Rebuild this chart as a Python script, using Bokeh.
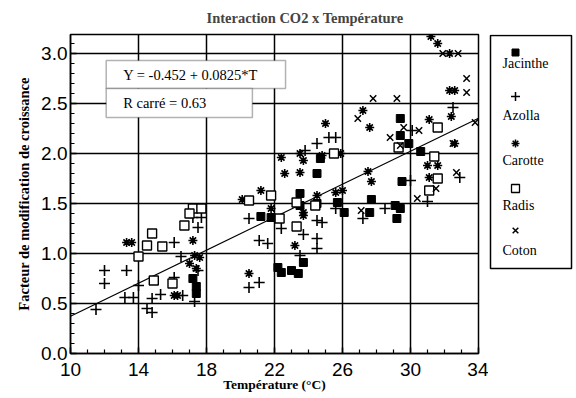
from bokeh.plotting import figure
from bokeh.models import Range1d, BoxAnnotation, Label, FixedTicker, NumeralTickFormatter
from bokeh.core.properties import value
from bokeh.layouts import row
from bokeh.embed import file_html
from bokeh.resources import INLINE

# ---------------- data ----------------
jacinthe_t = [17.2, 17.4, 17.4, 21.2, 21.8, 22.2, 22.4, 23.0, 23.4, 23.7, 23.5, 23.5, 24.5, 24.7, 24.5,
              26.1, 25.7, 27.7, 27.6, 29.1, 29.4, 29.2, 29.5, 29.4, 29.4, 29.9, 30.6]
jacinthe_y = [0.75, 0.67, 0.60, 1.37, 1.36, 0.86, 0.81, 0.83, 0.80, 0.91, 1.60, 1.48, 1.80, 1.95, 1.50,
              1.41, 1.51, 1.54, 1.41, 1.48, 1.45, 1.35, 1.72, 2.35, 2.18, 2.10, 2.02]

azolla_t = [11.5, 12.0, 12.0, 13.3, 13.2, 13.7, 14.0, 14.8, 15.3, 14.5, 14.8, 16.1, 16.6, 17.3, 17.5,
            16.1, 16.5, 17.2, 17.5, 17.7, 20.5, 21.1, 21.6, 21.1, 20.5, 22.4, 23.7, 24.5, 24.5, 23.5,
            24.5, 24.8, 24.5, 23.8, 25.2, 25.6, 25.6, 27.2, 28.5, 31.0, 30.0, 32.9, 30.1, 32.5]
azolla_y = [0.44, 0.83, 0.70, 0.83, 0.56, 0.56, 0.68, 0.55, 0.59, 0.45, 0.41, 0.76, 0.58, 0.52, 0.83,
            1.11, 0.97, 1.36, 1.26, 1.36, 1.35, 1.13, 1.10, 0.71, 0.66, 1.25, 1.19, 1.33, 1.15, 0.98,
            1.05, 1.31, 2.10, 2.03, 2.16, 2.16, 1.45, 1.35, 1.45, 1.52, 1.73, 1.76, 2.23, 2.46]

carotte_t = [13.3, 13.6, 17.2, 17.3, 17.6, 17.0, 17.4, 16.1, 16.3, 20.5, 20.1, 21.2, 22.4, 22.6, 23.5,
             21.8, 23.7, 23.2, 24.5, 23.5, 23.7, 25.0, 24.8, 25.9, 25.6, 26.0, 27.5, 27.7, 27.2, 27.6,
             31.2, 31.6, 32.3, 32.3, 32.6, 31.1, 32.4, 31.0, 31.6, 31.1, 32.6, 23.7]
carotte_y = [1.11, 1.11, 1.13, 0.98, 0.96, 0.90, 0.85, 0.58, 0.58, 0.80, 1.54, 1.63, 1.96, 1.80, 1.81,
             1.45, 1.38, 1.08, 1.58, 2.00, 1.93, 2.30, 1.98, 2.00, 1.61, 1.63, 1.82, 1.72, 2.43, 2.26,
             3.17, 3.10, 3.00, 2.63, 2.63, 2.34, 2.37, 1.88, 1.88, 1.76, 2.10, 1.41]

radis_t = [17.2, 17.7, 17.0, 16.7, 14.8, 14.5, 15.4, 14.0, 14.9, 16.0, 20.5, 21.8, 22.3, 23.3, 23.3,
           24.4, 25.5, 29.3, 31.4, 31.6, 31.1, 31.6]
radis_y = [1.45, 1.45, 1.40, 1.28, 1.20, 1.08, 1.07, 0.97, 0.73, 0.70, 1.53, 1.58, 1.35, 1.27, 1.51,
           1.48, 2.00, 2.06, 1.97, 1.75, 1.63, 2.26]

coton_t = [27.8, 29.2, 26.9, 33.3, 33.3, 31.9, 32.8, 32.5, 32.7, 29.6, 30.5, 28.8, 33.8, 31.5, 30.4,
           27.1, 29.4]
coton_y = [2.55, 2.55, 2.35, 2.75, 2.61, 3.00, 3.00, 2.10, 1.81, 2.26, 2.23, 2.16, 2.31, 1.65, 1.55,
           1.43, 2.08]

intercept = -0.452
slope = 0.0825
r2 = 0.63
x_ticks = [10, 14, 18, 22, 26, 30, 34]
x_minor = [11, 12, 13, 15, 16, 17, 19, 20, 21, 23, 24, 25, 27, 28, 29, 31, 32, 33]
y_ticks = [0.0, 0.5, 1.0, 1.5, 2.0, 2.5, 3.0]
y_minor = [0.1, 0.2, 0.3, 0.4, 0.6, 0.7, 0.8, 0.9, 1.1, 1.2, 1.3, 1.4, 1.6, 1.7, 1.8, 1.9,
           2.1, 2.2, 2.3, 2.4, 2.6, 2.7, 2.8, 2.9, 3.1]
species = ["Jacinthe", "Azolla", "Carotte", "Radis", "Coton"]

SERIF = "Liberation Serif"
SANS = "Liberation Sans"

# ---------------- main figure ----------------
p = figure(width=488, height=396, output_backend="svg", toolbar_location=None,
           x_range=Range1d(x_ticks[0], x_ticks[-1]), y_range=Range1d(0, 3.19),
           min_border_left=70, min_border_right=10, min_border_top=34, min_border_bottom=43)
p.title.text = "Interaction CO2 x Température"
p.title.text_font = SERIF
p.title.text_font_style = "bold"
p.title.text_font_size = "14.5px"
p.title.align = "left"
p.title.offset = 136
p.title.standoff = 14
p.title.vertical_align = "top"

p.outline_line_color = "black"
p.outline_line_width = 1.5
p.background_fill_color = "white"
p.border_fill_color = "white"

p.xaxis[0].ticker = FixedTicker(ticks=x_ticks, minor_ticks=x_minor)
p.yaxis[0].ticker = FixedTicker(ticks=y_ticks, minor_ticks=y_minor)
p.yaxis[0].formatter = NumeralTickFormatter(format="0.0")

for ax in (p.xaxis[0], p.yaxis[0]):
    ax.axis_line_color = "black"
    ax.axis_line_width = 1.5
    ax.major_tick_in = 6
    ax.major_tick_out = 0
    ax.minor_tick_in = 4
    ax.minor_tick_out = 0
    ax.major_tick_line_width = 1.5
    ax.minor_tick_line_width = 1.2
    ax.major_label_text_font = SANS
    ax.major_label_text_font_size = "19px"
    ax.major_label_text_color = "black"
    ax.axis_label_text_font = SERIF
    ax.axis_label_text_font_style = "bold"
    ax.axis_label_text_color = "black"

p.xaxis.axis_label = "Température (°C)"
p.yaxis.axis_label = "Facteur de modification de croissance"
p.xaxis.axis_label_text_font_size = "13.5px"
p.yaxis.axis_label_text_font_size = "14.5px"
p.xaxis.major_label_standoff = 9
p.yaxis.major_label_standoff = 3
p.xaxis.axis_label_standoff = -2
p.yaxis.axis_label_standoff = 6

p.xgrid[0].ticker = FixedTicker(ticks=x_ticks)
p.ygrid[0].ticker = FixedTicker(ticks=y_ticks)
for g in (p.xgrid[0], p.ygrid[0]):
    g.grid_line_color = "black"
    g.grid_line_width = 1.5
    g.grid_line_alpha = 1.0

# regression line
fx = [x_ticks[0], x_ticks[-1]]
fy = [intercept + slope * v for v in fx]
p.line(fx, fy, line_color="black", line_width=1.2)

# series
p.scatter(jacinthe_t, jacinthe_y, marker="square", size=8, fill_color="black", line_color="black")
p.scatter(azolla_t, azolla_y, marker="cross", size=11, line_color="black", line_width=1.6)
p.scatter(carotte_t, carotte_y, marker="asterisk", size=9, line_color="black", line_width=1.6)
p.scatter(radis_t, radis_y, marker="square", size=9, fill_color="white", line_color="black", line_width=1.4)
p.scatter(coton_t, coton_y, marker="x", size=9, line_color="black", line_width=1.5)

# equation boxes
p.add_layout(BoxAnnotation(left=12.1, right=22.65, bottom=2.65, top=2.93, fill_color="white", fill_alpha=1,
                           line_color="black", line_width=1.5))
p.add_layout(BoxAnnotation(left=12.1, right=20.7, bottom=2.36, top=2.65, fill_color="white", fill_alpha=1,
                           line_color="black", line_width=1.5))
p.add_layout(Label(x=13.1, y=2.79, text=f"Y = {intercept} + {slope}*T", text_font=SERIF,
                   text_font_size="14.5px", text_baseline="middle", text_color="black"))
p.add_layout(Label(x=13.1, y=2.505, text=f"R carré = {r2}", text_font=SERIF,
                   text_font_size="14.5px", text_baseline="middle", text_color="black"))

# ---------------- legend panel (page-pixel coordinates) ----------------
lg = figure(width=86, height=396, output_backend="svg", toolbar_location=None, title=None,
            x_range=Range1d(488, 574), y_range=Range1d(353, 34),
            min_border_left=0, min_border_right=0, min_border_top=34, min_border_bottom=43)
lg.axis.visible = False
lg.grid.visible = False
lg.outline_line_color = None
lg.quad(left=[490], right=[571], top=[35], bottom=[268], fill_color="white", line_color="black", line_width=1.5)
mk_x = 515
lb_x = 502
mk_y = [52, 96, 143, 188, 230]
lb_y = [63, 115, 160, 205, 250]
lg.scatter([mk_x], [mk_y[0]], marker="square", size=7, fill_color="black", line_color="black")
lg.scatter([mk_x], [mk_y[1]], marker="cross", size=9, line_color="black", line_width=1.5)
lg.scatter([mk_x], [mk_y[2]], marker="asterisk", size=8, line_color="black", line_width=1.5)
lg.scatter([mk_x], [mk_y[3]], marker="square", size=8, fill_color="white", line_color="black", line_width=1.3)
lg.scatter([mk_x], [mk_y[4]], marker="x", size=8, line_color="black", line_width=1.5)
lg.text(x=[lb_x] * 5, y=lb_y, text=species, text_font_size="14px", text_baseline="middle",
        text_color="black", text_font=value(SERIF))

layout = row(p, lg, spacing=0)
open("out.html", "w").write(file_html(layout, INLINE))
